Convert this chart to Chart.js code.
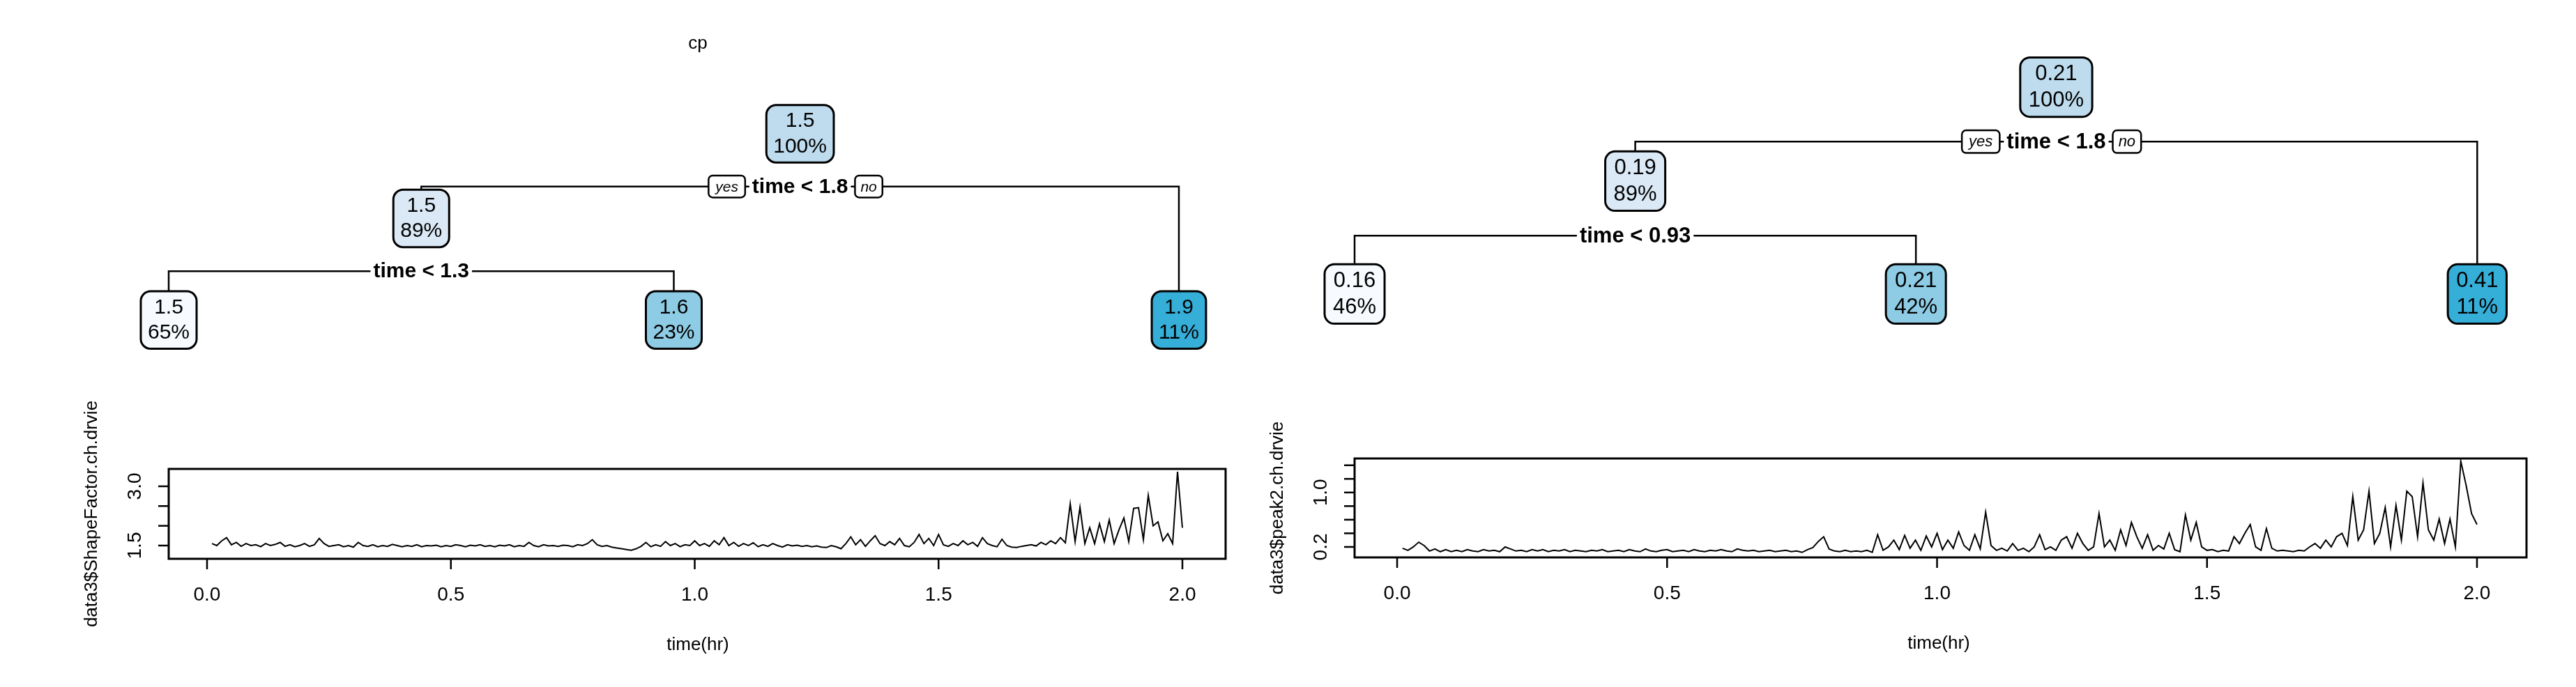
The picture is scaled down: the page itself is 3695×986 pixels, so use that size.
<!DOCTYPE html>
<html><head><meta charset="utf-8">
<script src="https://cdn.jsdelivr.net/npm/chart.js@4/dist/chart.umd.min.js"></script>
<style>
html,body{margin:0;padding:0;background:#fff;}
#wrap{position:relative;width:3695px;height:986px;}
canvas{position:absolute;top:0;}
</style></head>
<body><div id="wrap">
<canvas id="t1" width="1848" height="986" style="left:0;width:1848px;height:986px"></canvas>
<canvas id="l1" width="1848" height="986" style="left:0;width:1848px;height:986px"></canvas>
<canvas id="t2" width="1847" height="986" style="left:1848px;width:1847px;height:986px"></canvas>
<canvas id="l2" width="1995" height="986" style="left:1700px;width:1995px;height:986px"></canvas>
</div>
<script>
// ---------- DATA ----------
const times = Array.from({length:200},(_,i)=>+((i+1)*0.01).toFixed(2));
const shapeFactor = [
1.55,1.50,1.62,1.70,1.52,1.58,1.48,1.55,1.50,1.52,1.47,1.55,1.50,1.53,1.58,1.48,1.52,1.47,1.50,1.55,
1.48,1.52,1.68,1.55,1.48,1.50,1.52,1.47,1.50,1.46,1.58,1.50,1.48,1.52,1.47,1.50,1.48,1.53,1.50,1.47,
1.50,1.48,1.52,1.47,1.50,1.49,1.51,1.47,1.50,1.48,1.52,1.50,1.47,1.51,1.49,1.52,1.48,1.50,1.47,1.51,
1.49,1.52,1.47,1.50,1.48,1.58,1.50,1.47,1.52,1.49,1.50,1.48,1.51,1.50,1.47,1.52,1.50,1.55,1.65,1.52,
1.48,1.50,1.46,1.44,1.42,1.40,1.38,1.42,1.48,1.58,1.47,1.52,1.48,1.60,1.50,1.55,1.47,1.52,1.50,1.62,
1.50,1.55,1.48,1.62,1.52,1.70,1.50,1.58,1.48,1.55,1.50,1.57,1.47,1.52,1.48,1.55,1.50,1.46,1.52,1.49,
1.51,1.48,1.50,1.47,1.49,1.46,1.45,1.50,1.47,1.42,1.55,1.72,1.52,1.65,1.48,1.62,1.75,1.55,1.50,1.60,
1.52,1.68,1.50,1.47,1.58,1.78,1.55,1.68,1.50,1.78,1.52,1.48,1.55,1.50,1.62,1.52,1.58,1.48,1.70,1.55,
1.50,1.47,1.66,1.50,1.46,1.45,1.48,1.50,1.52,1.49,1.58,1.52,1.62,1.55,1.70,1.57,2.56,1.60,2.47,1.55,
1.95,1.55,2.05,1.60,2.15,1.55,1.90,2.20,1.60,2.44,2.46,1.65,2.77,2.00,2.10,1.62,1.80,1.55,3.37,1.95];
const peak2 = [
0.18,0.15,0.20,0.27,0.22,0.14,0.17,0.13,0.16,0.13,0.15,0.13,0.16,0.14,0.13,0.16,0.14,0.15,0.13,0.20,
0.17,0.14,0.15,0.13,0.16,0.14,0.16,0.13,0.15,0.14,0.16,0.13,0.15,0.14,0.13,0.15,0.14,0.16,0.13,0.14,
0.15,0.13,0.16,0.14,0.13,0.17,0.14,0.13,0.15,0.16,0.13,0.14,0.15,0.13,0.16,0.14,0.13,0.15,0.14,0.16,
0.14,0.13,0.17,0.15,0.14,0.15,0.13,0.14,0.15,0.13,0.14,0.15,0.13,0.14,0.12,0.16,0.19,0.28,0.35,0.17,
0.14,0.13,0.15,0.13,0.14,0.13,0.15,0.12,0.38,0.15,0.20,0.30,0.16,0.37,0.18,0.30,0.15,0.36,0.20,0.40,
0.16,0.30,0.18,0.42,0.22,0.15,0.38,0.17,0.71,0.22,0.15,0.18,0.14,0.25,0.15,0.18,0.13,0.20,0.38,0.16,
0.20,0.15,0.30,0.35,0.18,0.40,0.25,0.15,0.20,0.69,0.20,0.30,0.15,0.45,0.22,0.56,0.35,0.18,0.38,0.15,
0.22,0.17,0.40,0.16,0.13,0.67,0.30,0.56,0.20,0.15,0.16,0.13,0.15,0.14,0.35,0.25,0.40,0.53,0.20,0.15,
0.47,0.18,0.14,0.15,0.14,0.13,0.15,0.14,0.20,0.25,0.18,0.30,0.20,0.35,0.40,0.22,0.94,0.30,0.45,1.02,
0.25,0.40,0.78,0.20,0.81,0.30,1.02,0.94,0.35,1.14,0.45,0.30,0.61,0.25,0.61,0.20,1.46,1.10,0.69,0.53];
const xTicks = [0,0.5,1,1.5,2];
const yTicks1 = [1.5,2.0,2.5,3.0];
const yLabels1 = ['1.5','','','3.0'];
const yTicks2 = [0.2,0.4,0.6,0.8,1.0,1.2,1.4];
const yLabels2 = ['0.2','','','','1.0','',''];

// trees: node lists (parent index, -1 for root)
const tree1Parent = [-1,0,1,1,0];
const tree1Value  = ['1.5','1.5','1.5','1.6','1.9'];
const tree1Pct    = ['100%','89%','65%','23%','11%'];
const tree1Fill   = ['#bedcee','#dbe9f6','#f7fbff','#8ecbe4','#35aed8'];
const tree1Split  = ['time < 1.8','time < 1.3'];
const tree2Parent = [-1,0,1,1,0];
const tree2Value  = ['0.21','0.19','0.16','0.21','0.41'];
const tree2Pct    = ['100%','89%','46%','42%','11%'];
const tree2Fill   = ['#bedcee','#dbe9f6','#f7fbff','#8ecbe4','#35aed8'];
const tree2Split  = ['time < 1.8','time < 0.93'];

// ---------- TREE ----------
function layoutTree(parent){
  const n=parent.length, kids=parent.map(()=>[]);
  parent.forEach((p,i)=>{ if(p>=0) kids[p].push(i); });
  const x=new Array(n), d=new Array(n); let leaf=0;
  (function rec(i,depth){
    if(!kids[i].length){ x[i]=leaf++; d[i]=null; return; }
    d[i]=depth; kids[i].forEach(k=>rec(k,depth+1));
    x[i]=(x[kids[i][0]]+x[kids[i][kids[i].length-1]])/2;
  })(0,0);
  const leafDepth=2.2;
  return {kids, pts:x.map((v,i)=>({x:v,y:d[i]===null?leafDepth:d[i]}))};
}
function rrect(c,x,y,w,h,r){c.beginPath();c.roundRect(x,y,w,h,r);}
function makeTree(id, parent, vals, pcts, fills, splits, xr, yr, font, pad, title){
  const L=layoutTree(parent);
  new Chart(document.getElementById(id),{
    type:'scatter',
    data:{datasets:[{data:L.pts,pointRadius:0}]},
    options:{responsive:false,animation:false,events:[],
      layout:{padding:0},
      plugins:{legend:{display:false},tooltip:{enabled:false}},
      scales:{x:{type:'linear',display:false,min:xr[0],max:xr[1]},
              y:{type:'linear',display:false,reverse:true,min:yr[0],max:yr[1]}}},
    plugins:[{id:'tree',afterDatasetsDraw(ch){
      const c=ch.ctx, xs=ch.scales.x, ys=ch.scales.y;
      const P=L.pts.map(p=>({x:xs.getPixelForValue(p.x),y:ys.getPixelForValue(p.y)}));
      c.save();
      c.font=font+'px Arial';
      const H=font*2.75;
      const W=vals.map((v,i)=>Math.max(c.measureText(v).width,c.measureText(pcts[i]).width)+2*pad);
      let s=0;
      c.strokeStyle='#000'; c.lineWidth=2.5;
      L.kids.forEach((k,i)=>{
        if(!k.length) return;
        const ly=P[i].y+H/2+font*1.15;
        c.beginPath();
        c.moveTo(P[k[0]].x,P[k[0]].y-H/2); c.lineTo(P[k[0]].x,ly);
        c.lineTo(P[k[k.length-1]].x,ly); c.lineTo(P[k[k.length-1]].x,P[k[k.length-1]].y-H/2);
        c.stroke();
        c.font='bold '+(font)+'px Arial';
        const tw=c.measureText(splits[s]).width;
        c.fillStyle='#fff'; c.fillRect(P[i].x-tw/2-4,ly-font*0.6,tw+8,font*1.2);
        c.fillStyle='#000'; c.textAlign='center'; c.textBaseline='middle';
        c.fillText(splits[s],P[i].x,ly+1);
        if(i===0){
          c.font='italic '+Math.round(font*0.7)+'px Arial';
          const bw=font*1.75,bh=font*1.05;
          [['yes',P[i].x-tw/2-10-bw],['no',P[i].x+tw/2+10]].forEach(([t,bx])=>{
            c.fillStyle='#fff'; rrect(c,bx,ly-bh/2,t==='no'?bw*0.75:bw,bh,6); c.fill();
            c.lineWidth=2.5; c.stroke();
            c.fillStyle='#000'; c.fillText(t,bx+(t==='no'?bw*0.375:bw/2),ly+1);
          });
        }
        s++;
      });
      P.forEach((p,i)=>{
        c.fillStyle=fills[i]; rrect(c,p.x-W[i]/2,p.y-H/2,W[i],H,14); c.fill();
        c.lineWidth=3; c.strokeStyle='#000'; c.stroke();
        c.fillStyle='#000'; c.font=font+'px Arial'; c.textAlign='center'; c.textBaseline='middle';
        c.fillText(vals[i],p.x,p.y-font*0.6); c.fillText(pcts[i],p.x,p.y+font*0.62);
      });
      if(title){ c.font='26px Arial'; c.fillStyle='#000'; c.fillText(title.t,title.x,title.y); }
      c.restore();
    }}]
  });
}
makeTree('t1',tree1Parent,tree1Value,tree1Pct,tree1Fill,tree1Split,[-0.334,2.2167],[-1.580,6.535],30,10,{t:'cp',x:1001,y:63});
makeTree('t2',tree2Parent,tree2Value,tree2Pct,tree2Fill,tree2Split,[-0.118,2.176],[-0.926,6.378],31,12,null);

// ---------- LINE ----------
function makeLine(id, vals, yt, yl, ytitle, pad, xr, yr, xlabX){
  new Chart(document.getElementById(id),{
    type:'line',
    data:{labels:times,datasets:[{data:times.map((t,i)=>({x:t,y:vals[i]})),borderColor:'#000',borderWidth:2,pointRadius:0,tension:0}]},
    options:{responsive:false,animation:false,events:[],
      layout:{padding:pad},
      plugins:{legend:{display:false},tooltip:{enabled:false}},
      scales:{x:{type:'linear',display:false,min:xr[0],max:xr[1]},
              y:{type:'linear',display:false,min:yr[0],max:yr[1]}}},
    plugins:[{id:'axes',afterDraw(ch){
      const c=ch.ctx,a=ch.chartArea,xs=ch.scales.x,ys=ch.scales.y;
      c.save(); c.strokeStyle='#000'; c.lineWidth=3;
      c.strokeRect(a.left,a.top,a.right-a.left,a.bottom-a.top);
      c.lineWidth=2.5; c.fillStyle='#000'; c.font='28px Arial';
      c.textAlign='center'; c.textBaseline='middle';
      xTicks.forEach(v=>{const x=xs.getPixelForValue(v);
        c.beginPath();c.moveTo(x,a.bottom);c.lineTo(x,a.bottom+15);c.stroke();
        c.fillText(v.toFixed(1),x,a.bottom+52);});
      yt.forEach((v,i)=>{const y=ys.getPixelForValue(v);
        c.beginPath();c.moveTo(a.left,y);c.lineTo(a.left-15,y);c.stroke();
        if(yl[i]){c.save();c.translate(a.left-48,y);c.rotate(-Math.PI/2);c.fillText(yl[i],0,0);c.restore();}});
      c.font='26px Arial';
      c.fillText('time(hr)',xlabX,a.bottom+124);
      c.save();c.translate(a.left-110,(a.top+a.bottom)/2);c.rotate(-Math.PI/2);c.fillText(ytitle,0,0);c.restore();
      c.restore();
    }}]
  });
}
makeLine('l1',shapeFactor,yTicks1,yLabels1,'data3$ShapeFactor.ch.drvie',{left:242,right:90,top:673,bottom:184},[-0.0786,2.0886],[1.165,3.44],1001);
makeLine('l2',peak2,yTicks2,yLabels2,'data3$peak2.ch.drvie',{left:243,right:71,top:658,bottom:186},[-0.0788,2.0917],[0.046,1.50],1081);
</script></body></html>
